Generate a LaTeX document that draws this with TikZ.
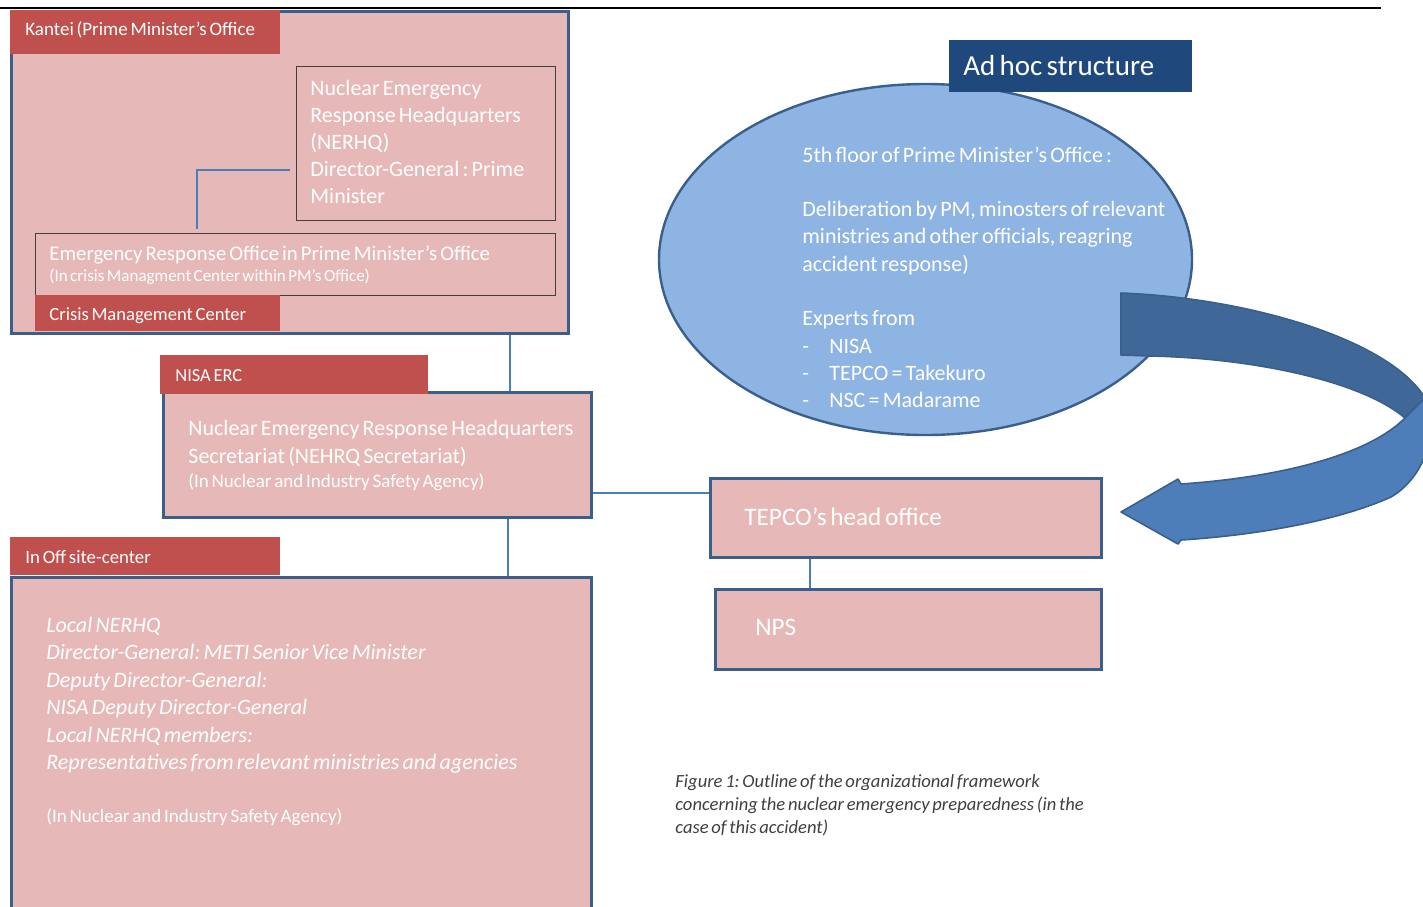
\documentclass[tikz,border=0pt]{standalone}
\usepackage{fontspec}
\setmainfont{Carlito}[WordSpace=0.65]
\frenchspacing
\usetikzlibrary{shapes.geometric,calc}
\definecolor{pinkfill}{HTML}{E6B9B8}
\definecolor{labred}{HTML}{C0504D}
\definecolor{bordblue}{HTML}{3B5F8C}
\definecolor{connblue}{HTML}{4A7EBB}
\definecolor{ellfill}{HTML}{8EB4E3}
\definecolor{adhocblue}{HTML}{1F497D}
\definecolor{ribdark}{HTML}{3F6797}
\definecolor{riblight}{HTML}{4D7EBA}
\definecolor{captext}{HTML}{404040}
\newcommand{\natsp}{\spaceskip=0pt\xspaceskip=0pt\relax}
\begin{document}
\begin{tikzpicture}[x=0.5pt,y=-0.5pt,
  bluebox/.style={draw=bordblue,line width=1.4pt,fill=pinkfill,inner sep=0,anchor=north west},
  thinbox/.style={draw=black!75,line width=0.6pt,fill=pinkfill,inner sep=0,anchor=north west},
  redlab/.style={fill=labred,inner sep=0,anchor=north west},
  conn/.style={draw=connblue,line width=1.1pt},
  wtxt/.style={text=white,inner sep=0,anchor=base west,align=left},
  ribbon/.style={draw=bordblue,line width=0.8pt,line join=round}]
\useasboundingbox (0,0) rectangle (1423,906);
\clip (0,0) rectangle (1423,906);
\draw[black,line width=0.9pt] (0,8) -- (1381,8);
% Kantei
\node[bluebox,minimum width=278.5pt,minimum height=161pt] (kantei) at (10,10) {};
\node[redlab,minimum width=135pt,minimum height=22pt] (kanteilab) at (10,10) {};
\node[wtxt,font=\fontsize{9.5}{11}\selectfont] (kanteitxt) at (25,35) {Kantei (Prime Minister’s Office};
\node[thinbox,minimum width=129.5pt,minimum height=77pt] (nerhq) at (296,66) {};
\node[wtxt,text width=150pt,font=\fontsize{11}{13.5}\selectfont] (nerhqtxt) at (310,95) {\natsp Nuclear Emergency\\Response Headquarters\\(NERHQ)\\Director-General : Prime\\Minister};
\node[thinbox,minimum width=260pt,minimum height=31pt] (ero) at (35,233) {};
\node[wtxt,font=\fontsize{10.4}{12}\selectfont] (erotxt) at (49,260.5) {Emergency Response Office in Prime Minister’s Office};
\node[wtxt,font=\fontsize{8.5}{10}\selectfont] (erosub) at (49,281.5) {(In crisis Managment Center within PM’s Office)};
\node[redlab,minimum width=122.5pt,minimum height=18pt] (cmclab) at (35,295) {};
\node[wtxt,font=\fontsize{9.3}{11}\selectfont] (cmctxt) at (49,320) {Crisis Management Center};
% NISA
\node[bluebox,minimum width=214pt,minimum height=62.5pt] (nisa) at (162,391) {};
\node[redlab,minimum width=134pt,minimum height=19.5pt] (nisalab) at (160,355) {};
\node[wtxt,font=\fontsize{9.2}{11}\selectfont] (nisalabtxt) at (175,381) {NISA ERC};
\node[wtxt,text width=240pt,font=\fontsize{11}{14}\selectfont] (nisatxt) at (188,435) {\natsp Nuclear Emergency Response Headquarters\\Secretariat (NEHRQ Secretariat)};
\node[wtxt,font=\fontsize{9.5}{11}\selectfont] (nisasub) at (188,487) {(In Nuclear and Industry Safety Agency)};
% Off-site
\node[bluebox,minimum width=290pt,minimum height=170pt] (offsite) at (10,576) {};
\node[redlab,minimum width=135pt,minimum height=19pt] (offlab) at (10,537) {};
\node[wtxt,font=\fontsize{9.4}{11}\selectfont] (offlabtxt) at (25,563) {In Off site-center};
\node[wtxt,text width=270pt,font=\fontsize{11}{13.75}\selectfont\itshape] (offtxt) at (46,632) {\natsp Local NERHQ\\Director-General: METI Senior Vice Minister\\Deputy Director-General:\\NISA Deputy Director-General\\Local NERHQ members:\\Representatives from relevant ministries and agencies};
\node[wtxt,font=\fontsize{9.5}{11}\selectfont] (offsub) at (46,822) {(In Nuclear and Industry Safety Agency)};
% TEPCO / NPS
\node[bluebox,minimum width=195.5pt,minimum height=39.5pt] (tepco) at (709,477) {};
\node[wtxt,font=\fontsize{12.6}{14}\selectfont] (tepcotxt) at (744,525) {TEPCO’s head office};
\node[bluebox,minimum width=193pt,minimum height=40pt] (nps) at (714,588) {};
\node[wtxt,font=\fontsize{12.6}{14}\selectfont] (npstxt) at (755,635) {NPS};
% connectors
\draw[conn] ($(nerhq.north west)+(-6,104)$) -| ($(ero.north west)+(162,-4)$);
\draw[conn] (kantei.south -| 510,0) -- (nisa.north -| 510,0);
\draw[conn] (nisa.south -| 508,0) -- (offsite.north -| 508,0);
\draw[conn] (nisa.east |- 0,493) -- (tepco.west |- 0,493);
\draw[conn] (tepco.south -| 810,0) -- (nps.north -| 810,0);
% ad hoc ellipse
\node[ellipse,draw=bordblue,line width=1.2pt,fill=ellfill,minimum width=266.5pt,minimum height=175.5pt,inner sep=0] (meeting) at (925.5,259.5) {};
\node[wtxt,text width=240pt,font=\fontsize{11}{13.65}\selectfont] (meettxt) at (802,162) {\natsp 5th floor of Prime Minister’s Office :\\[13.65pt]Deliberation by PM, minosters of relevant\\ministries and other officials, reagring\\accident response)\\[13.65pt]Experts from\\\makebox[13.5pt][l]{-}NISA\\\makebox[13.5pt][l]{-}TEPCO = Takekuro\\\makebox[13.5pt][l]{-}NSC = Madarame};
% ribbon arrow
\draw[ribbon,fill=ribdark] (1121,293) .. controls (1250,298) and (1390,340) .. (1425,398) -- (1405,418) .. controls (1360,380) and (1250,358) .. (1150,356) -- (1121,355) -- cycle;
\draw[ribbon,fill=riblight] (1405,418) -- (1425,398) .. controls (1440,440) and (1420,480) .. (1391,497) .. controls (1340,520) and (1260,535) .. (1181,540) -- (1178,544) -- (1121,512) -- (1178,479) -- (1181,484) .. controls (1270,478) and (1365,458) .. (1405,418) -- cycle;
\node[fill=adhocblue,inner sep=0,anchor=north west,minimum width=121.5pt,minimum height=26pt] (adhoc) at (949,40) {};
\node[wtxt,font=\fontsize{14.5}{16}\selectfont] (adhoctxt) at (963,75) {Ad hoc structure};
% caption
\node[text=captext,inner sep=0,anchor=base west,text width=240pt,align=left,font=\fontsize{9.3}{11.65}\selectfont\itshape] (caption) at (675,787) {\natsp Figure 1: Outline of the organizational framework\\concerning the nuclear emergency preparedness (in the\\case of this accident)};
\end{tikzpicture}
\end{document}
